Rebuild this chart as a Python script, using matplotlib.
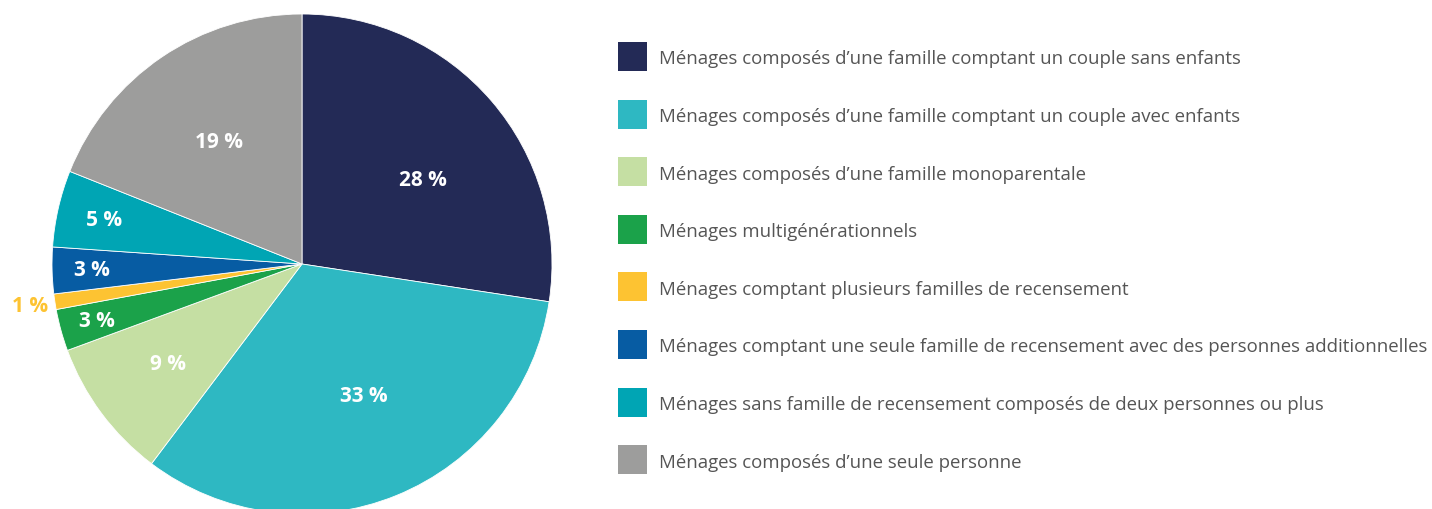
import numpy as np
import matplotlib.pyplot as plt
from matplotlib.patches import Rectangle

plt.rcParams["font.family"] = ["Open Sans", "DejaVu Sans"]

# household types (shares in %)
categories = [
    "Ménages composés d’une famille comptant un couple sans enfants",
    "Ménages composés d’une famille comptant un couple avec enfants",
    "Ménages composés d’une famille monoparentale",
    "Ménages multigénérationnels",
    "Ménages comptant plusieurs familles de recensement",
    "Ménages comptant une seule famille de recensement avec des personnes additionnelles",
    "Ménages sans famille de recensement composés de deux personnes ou plus",
    "Ménages composés d’une seule personne",
]
shares = [27.4, 32.85, 9.1, 2.7, 1.0, 3.0, 4.95, 18.95]
share_labels = ["28 %", "33 %", "9 %", "3 %", "1 %", "3 %", "5 %", "19 %"]
colors = ["#232A56", "#2EB8C2", "#C5DFA3", "#1BA24A",
          "#FDC332", "#075CA3", "#00A5B4", "#9D9D9C"]

# label placement (radius fraction, angle tweak in degrees)
label_dist = [0.59, 0.58, 0.67, 0.85, 1.1, 0.84, 0.81, 0.59]
label_dang = [-5.5, 3.0, 0, 0, 0, 0, 0, 0]
label_colors = ["white"] * 4 + ["#FDC332"] + ["white"] * 3

W, H = 1432, 510
fig = plt.figure(figsize=(W / 100, H / 100), dpi=100)

# pie axes: centre (302, 265) px, radius 250 px
cx, cy, r = 302, 265, 250
ax = fig.add_axes([(cx - r) / W, (H - cy - r) / H, 2 * r / W, 2 * r / H])
wedges, _ = ax.pie(shares, colors=colors, startangle=90, counterclock=False,
                   wedgeprops=dict(edgecolor="white", linewidth=0.6))
ax.set_xlim(-1, 1)
ax.set_ylim(-1, 1)
for w in wedges:
    w.set_clip_on(False)

for w, lab, d, da, c in zip(wedges, share_labels, label_dist, label_dang, label_colors):
    ang = np.deg2rad((w.theta1 + w.theta2) / 2 + da)
    ax.text(d * np.cos(ang), d * np.sin(ang), lab, ha="center", va="center",
            color=c, fontsize=15, fontweight="bold", clip_on=False)

# legend drawn by hand in pixel coordinates
lax = fig.add_axes([0, 0, 1, 1])
lax.set_xlim(0, W)
lax.set_ylim(H, 0)
lax.axis("off")
for i, (cat, c) in enumerate(zip(categories, colors)):
    top = 43 + i * 57.6
    lax.add_patch(Rectangle((618, top), 29, 29, facecolor=c, edgecolor="none"))
    lax.text(659, top + 14.5, cat, ha="left", va="center_baseline",
             fontsize=13.4, color="#555555")

fig.savefig("out.png", dpi=100)
